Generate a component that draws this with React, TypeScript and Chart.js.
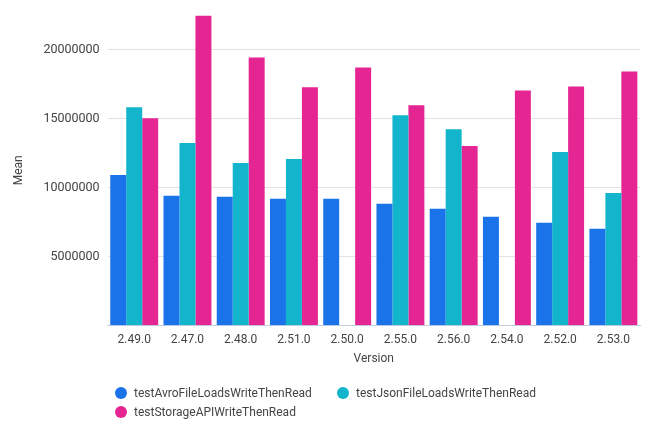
import React, { useEffect, useRef } from "react";
import { Chart, registerables } from "chart.js";

Chart.register(...registerables);

const versions = ["2.49.0", "2.47.0", "2.48.0", "2.51.0", "2.50.0", "2.55.0", "2.56.0", "2.54.0", "2.52.0", "2.53.0"];
const avroValues = [10920000, 9400000, 9330000, 9180000, 9180000, 8820000, 8460000, 7880000, 7450000, 7010000];
const jsonValues: (number | null)[] = [15830000, 13230000, 11780000, 12070000, null, 15250000, 14240000, null, 12580000, 9610000];
const storageValues = [15040000, 22500000, 19450000, 17280000, 18720000, 15980000, 13010000, 17060000, 17350000, 18430000];
const seriesLabels = ["testAvroFileLoadsWriteThenRead", "testJsonFileLoadsWriteThenRead", "testStorageAPIWriteThenRead"];
const seriesColors = ["#1a73e8", "#12b5cb", "#e52592"];
const yTickValues = [5000000, 10000000, 15000000, 20000000];

const FONT = "Roboto";

export default function App() {
  const ref = useRef<HTMLCanvasElement | null>(null);

  useEffect(() => {
    if (!ref.current) return;
    const chart = new Chart(ref.current, {
      type: "bar",
      data: {
        labels: versions,
        datasets: [avroValues, jsonValues, storageValues].map((d, i) => ({
          label: seriesLabels[i],
          data: d,
          backgroundColor: seriesColors[i],
          borderWidth: 0,
          categoryPercentage: 0.9,
          barPercentage: 1.0,
        })),
      },
      options: {
        animation: false,
        responsive: false,
        maintainAspectRatio: false,
        layout: { padding: { top: 14, right: 10, bottom: 72, left: 0 } },
        plugins: {
          legend: { display: false },
          tooltip: { enabled: false },
        },
        scales: {
          x: {
            grid: { display: false, drawTicks: false },
            border: { display: true, color: "#c5cde3", width: 1 },
            ticks: { color: "#444444", font: { family: FONT, size: 12 }, padding: 8 },
            title: {
              display: true,
              text: "Version",
              color: "#444444",
              font: { family: FONT, size: 12 },
              padding: { top: -4, bottom: 4 },
            },
          },
          y: {
            min: 0,
            max: 22500000,
            grid: { color: "#e3e3e3", drawTicks: false, lineWidth: 1 },
            border: { display: false },
            afterBuildTicks: (scale: any) => {
              scale.ticks = yTickValues.map((v) => ({ value: v }));
            },
            ticks: {
              color: "#444444",
              font: { family: FONT, size: 12.5 },
              padding: 8,
              callback: (v: any) => String(v),
            },
            title: {
              display: true,
              text: "Mean",
              color: "#444444",
              font: { family: FONT, size: 12 },
              padding: { top: 12, bottom: 9 },
            },
          },
        },
      },
    });
    return () => chart.destroy();
  }, []);

  return (
    <div style={{ position: "absolute", left: 0, top: 0, width: 650, height: 442, background: "#fff" }}>
      <canvas ref={ref} width={650} height={442} style={{ display: "block", width: 650, height: 442 }} />
      <div
        style={{
          position: "absolute",
          left: 115,
          top: 383,
          width: 460,
          display: "flex",
          flexWrap: "wrap",
          fontFamily: FONT,
          fontSize: 12,
          color: "#444444",
        }}
      >
        {seriesLabels.map((label, i) => (
          <div key={label} style={{ width: 222, height: 19, display: "flex", alignItems: "center" }}>
            <span
              style={{
                display: "inline-block",
                width: 12,
                height: 12,
                borderRadius: "50%",
                background: seriesColors[i],
                marginRight: 7,
                flex: "none",
              }}
            />
            <span style={{ whiteSpace: "nowrap" }}>{label}</span>
          </div>
        ))}
      </div>
    </div>
  );
}
